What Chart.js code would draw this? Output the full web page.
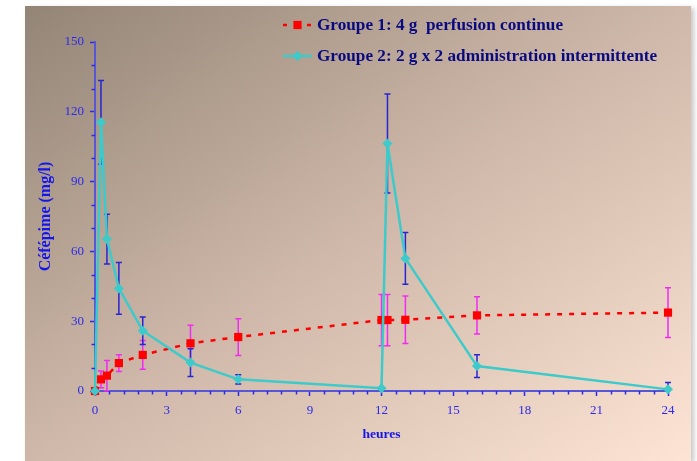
<!DOCTYPE html>
<html>
<head>
<meta charset="utf-8">
<script src="https://cdn.jsdelivr.net/npm/chart.js@4.4.1/dist/chart.umd.min.js"></script>
<style>
  html, body { margin: 0; padding: 0; background: #ffffff; }
  body { width: 697px; height: 461px; overflow: hidden; position: relative; }
  #panel {
    position: absolute; left: 25px; top: 6px; width: 666px; height: 455px;
    background: linear-gradient(to bottom right, #938576 0%, #cfb8a9 50%, #fde4d4 100%);
    box-shadow: 3px 2px 5px rgba(0, 0, 0, 0.22);
  }
  #chart { display: block; }
</style>
</head>
<body>
<div id="panel"><canvas id="chart" width="666" height="455"></canvas></div>
<script>
// Sampling times (hours after the start of treatment)
const hours = [0, 0.25, 0.5, 1, 2, 4, 6, 12, 12.25, 13, 16, 24];

// Group 1: 4 g continuous infusion – mean and standard deviation (mg/l)
const group1Means = [0, 5.0, 6.6, 12.0, 15.5, 20.5, 23.2, 30.5, 30.5, 30.6, 32.5, 33.7];
const group1Sd    = [0, 3.6, 6.5, 3.6, 6.2, 7.8, 7.9, 11.0, 11.0, 10.2, 8.0, 10.7];

// Group 2: 2 g x 2 intermittent dosing – mean and standard deviation (mg/l)
const group2Means = [0, 115.5, 65.3, 44.1, 25.9, 12.2, 5.0, 1.2, 106.4, 57.0, 10.7, 0.7];
const group2Sd    = [0, 18.0, 10.7, 11.1, 5.9, 6.0, 2.0, 0, 21.3, 11.1, 4.9, 3.0];

// Axis tick values
const xTickValues = [0, 3, 6, 9, 12, 15, 18, 21, 24];
const yTickValues = [0, 30, 60, 90, 120, 150];

const SERIF = '"Liberation Serif", "Times New Roman", serif';
const TICK_BLUE = '#2a2aee';
const AXIS_BLUE = '#5656d6';

const toPoints = (xs, ys) => xs.map((x, i) => ({ x: x, y: ys[i] }));

// Vertical mean ± SD bars, drawn underneath the lines and markers
const errorBars = {
  id: 'errorBars',
  beforeDatasetsDraw(chart) {
    const { ctx } = chart;
    const x = chart.scales.x, y = chart.scales.y;
    chart.data.datasets.forEach(ds => {
      if (!ds.errors) return;
      ctx.save();
      ctx.strokeStyle = ds.errorColor;
      ctx.lineWidth = 1.5;
      ds.data.forEach((pt, j) => {
        const e = ds.errors[j];
        if (!e) return;
        const px = x.getPixelForValue(pt.x);
        const hi = y.getPixelForValue(pt.y + e);
        const lowVal = pt.y - e;
        const lo = y.getPixelForValue(Math.max(0, lowVal));
        ctx.beginPath();
        ctx.moveTo(px, hi); ctx.lineTo(px, lo);
        ctx.moveTo(px - 3, hi); ctx.lineTo(px + 3, hi);
        if (lowVal > 0) { ctx.moveTo(px - 3, lo); ctx.lineTo(px + 3, lo); }
        ctx.stroke();
      });
      ctx.restore();
    });
  }
};

// Short intermediate tick marks between the labelled ones
const minorTicks = {
  id: 'minorTicks',
  afterDraw(chart) {
    const { ctx, chartArea } = chart;
    const x = chart.scales.x, y = chart.scales.y;
    ctx.save();
    ctx.strokeStyle = TICK_BLUE;
    ctx.lineWidth = 1.5;
    ctx.beginPath();
    for (let i = 1; i < 40; i++) {
      if (i % 5 === 0) continue;
      const px = Math.round(x.getPixelForValue(i * 0.6)) + 0.5;
      ctx.moveTo(px, chartArea.bottom); ctx.lineTo(px, chartArea.bottom + 3.5);
    }
    for (let i = 1; i < 15; i++) {
      if (i % 3 === 0) continue;
      const py = Math.round(y.getPixelForValue(i * 10)) + 0.5;
      ctx.moveTo(chartArea.left, py); ctx.lineTo(chartArea.left - 3.5, py);
    }
    ctx.stroke();
    ctx.restore();
  }
};

// Legend: line sample with marker, followed by the series name
const seriesLegend = {
  id: 'seriesLegend',
  afterDraw(chart, args, opts) {
    const { ctx } = chart;
    chart.data.datasets.forEach((ds, i) => {
      const cy = opts.top + i * opts.rowGap;
      const x0 = opts.left, x1 = opts.left + opts.sampleWidth;
      const cx = (x0 + x1) / 2;
      ctx.save();
      ctx.strokeStyle = ds.borderColor;
      ctx.lineWidth = ds.legendLineWidth;
      if (ds.borderDash && ds.borderDash.length) ctx.setLineDash([4, 20]);
      ctx.beginPath();
      ctx.moveTo(x0, cy); ctx.lineTo(x1, cy);
      ctx.stroke();
      ctx.setLineDash([]);
      ctx.fillStyle = ds.pointBackgroundColor;
      ctx.strokeStyle = ds.pointBackgroundColor;
      Chart.helpers.drawPoint(ctx, {
        pointStyle: ds.pointStyle, radius: ds.pointRadius, rotation: 0, borderWidth: 0
      }, cx, cy);
      ctx.font = 'bold 17.2px ' + SERIF;
      ctx.fillStyle = '#0a0a80';
      ctx.textBaseline = 'middle';
      ctx.textAlign = 'left';
      ctx.fillText(ds.label, x1 + 5, cy + 1);
      ctx.restore();
    });
  }
};

new Chart(document.getElementById('chart'), {
  type: 'line',
  data: {
    datasets: [
      {
        label: 'Groupe 1: 4 g  perfusion continue',
        data: toPoints(hours, group1Means),
        errors: group1Sd,
        errorColor: '#f02cf0',
        borderColor: '#ff0000',
        borderWidth: 2.5,
        borderDash: [5, 7],
        legendLineWidth: 2.5,
        pointStyle: 'rect',
        pointRadius: 5.8,
        pointBackgroundColor: '#ff0000',
        pointBorderWidth: 0,
        tension: 0,
        clip: false,
        order: 1
      },
      {
        label: 'Groupe 2: 2 g x 2 administration intermittente',
        data: toPoints(hours, group2Means),
        errors: group2Sd,
        errorColor: '#2626d2',
        borderColor: '#3ccaca',
        borderWidth: 2.5,
        legendLineWidth: 2.5,
        pointStyle: 'rectRot',
        pointRadius: 5,
        pointBackgroundColor: '#3ccaca',
        pointBorderWidth: 0,
        tension: 0,
        clip: false,
        order: 0
      }
    ]
  },
  options: {
    responsive: false,
    animation: false,
    events: [],
    layout: { padding: { top: 36, right: 23, bottom: 0, left: 0 } },
    scales: {
      x: {
        type: 'linear',
        min: 0, max: 24,
        afterBuildTicks: s => { s.ticks = xTickValues.map(v => ({ value: v })); },
        afterFit: s => { s.height = 70; },
        border: { display: true, color: AXIS_BLUE, width: 2 },
        grid: { display: true, drawOnChartArea: false, drawTicks: true, tickLength: 5, tickColor: TICK_BLUE, tickWidth: 1.5 },
        ticks: { color: TICK_BLUE, font: { family: SERIF, size: 13 }, padding: 7, maxRotation: 0 },
        title: {
          display: true, text: 'heures', color: '#1414ee',
          font: { family: SERIF, size: 13.5, weight: 'bold' },
          padding: { top: 18, bottom: 18 }
        }
      },
      y: {
        type: 'linear',
        min: 0, max: 150,
        afterBuildTicks: s => { s.ticks = yTickValues.map(v => ({ value: v })); },
        afterFit: s => { s.width = 70; },
        border: { display: true, color: AXIS_BLUE, width: 2 },
        grid: { display: true, drawOnChartArea: false, drawTicks: true, tickLength: 5, tickColor: TICK_BLUE, tickWidth: 1.5 },
        ticks: { color: TICK_BLUE, font: { family: SERIF, size: 13 }, padding: 6 },
        title: {
          display: true, text: 'Céfépime (mg/l)', color: '#1414ee',
          font: { family: SERIF, size: 16, weight: 'bold' },
          padding: { top: 11, bottom: 11 }
        }
      }
    },
    plugins: {
      legend: { display: false },
      tooltip: { enabled: false },
      seriesLegend: { left: 258, top: 19, rowGap: 31, sampleWidth: 29 }
    }
  },
  plugins: [errorBars, minorTicks, seriesLegend]
});
</script>
</body>
</html>
